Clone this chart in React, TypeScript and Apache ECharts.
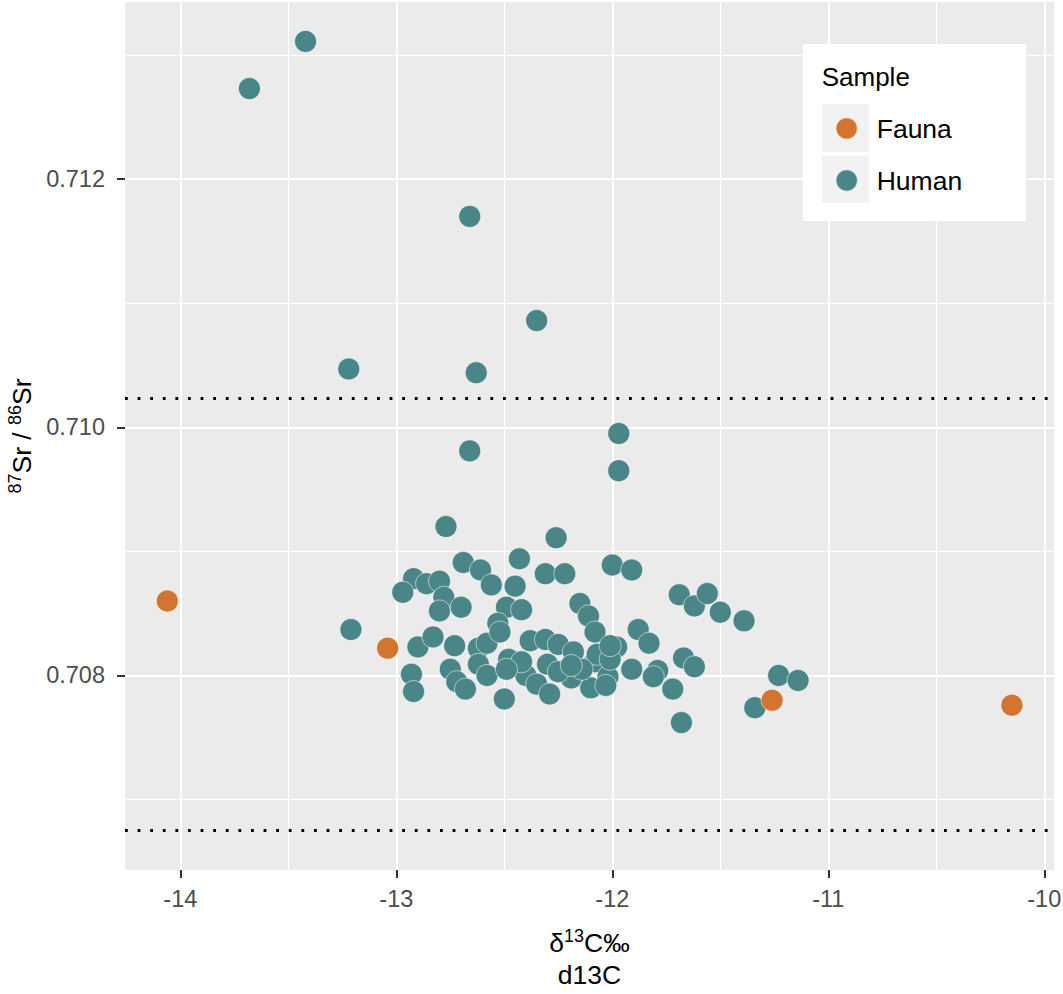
import React, { useEffect, useRef } from "react";
import * as echarts from "echarts";

// ---- data ----
const categories = ["Fauna", "Human"];

const humanD13C = [
  -13.42, -13.68, -12.66, -12.35, -13.22, -12.63, -12.66, -11.97, -11.97,
  -12.77, -12.69, -12.61, -12.56, -12.43, -12.45, -12.26, -12.31, -12.22,
  -12.0, -11.91, -12.92, -12.97, -12.86, -12.8, -12.78, -12.8, -12.7,
  -12.49, -12.42, -12.53, -12.15, -12.11, -12.08, -12.9, -12.83, -12.73,
  -12.93, -12.92, -12.75, -12.72, -12.68, -12.5, -13.21, -11.69, -11.62,
  -11.56, -11.5, -11.39, -11.88, -11.83, -11.98, -11.67, -11.62, -11.91,
  -11.79, -11.81, -11.72, -11.68, -11.23, -11.14, -11.34, -12.08, -12.1,
  -12.02, -12.07, -12.62, -12.58, -12.62, -12.58, -12.48, -12.38, -12.31,
  -12.25, -12.4, -12.35, -12.29, -12.18, -12.19, -12.3, -12.42, -12.25,
  -12.14, -12.01, -12.01, -12.52, -12.49, -12.03, -12.19,
];
const humanSr = [
  0.71311, 0.71273, 0.7117, 0.71086, 0.71047, 0.71044, 0.70981, 0.70995, 0.70965,
  0.7092, 0.70891, 0.70885, 0.70873, 0.70894, 0.70872, 0.70911, 0.70882, 0.70882,
  0.70889, 0.70885, 0.70878, 0.70867, 0.70874, 0.70876, 0.70863, 0.70852, 0.70855,
  0.70855, 0.70853, 0.70842, 0.70858, 0.70848, 0.70835, 0.70823, 0.70831, 0.70824,
  0.70801, 0.70787, 0.70805, 0.70795, 0.70789, 0.70781, 0.70837, 0.70865, 0.70856,
  0.70866, 0.70851, 0.70844, 0.70837, 0.70826, 0.70823, 0.70814, 0.70807, 0.70805,
  0.70804, 0.70799, 0.70789, 0.70762, 0.708, 0.70796, 0.70774, 0.70811, 0.7079,
  0.70799, 0.70817, 0.70822, 0.70826, 0.70809, 0.708, 0.70813, 0.70828, 0.70829,
  0.70825, 0.708, 0.70793, 0.70785, 0.70819, 0.70798, 0.70809, 0.70811, 0.70803,
  0.70805, 0.70813, 0.70824, 0.70835, 0.70805, 0.70792, 0.70808,
];

const faunaD13C = [-14.06, -13.04, -11.26, -10.15];
const faunaSr = [0.7086, 0.70822, 0.7078, 0.70776];

const xTicks = [-14, -13, -12, -11, -10];
const xMinor = [-13.5, -12.5, -11.5, -10.5];
const yTicks = [0.708, 0.71, 0.712];
const yMinor = [0.707, 0.709, 0.711, 0.713];
const refLines = [0.710234, 0.70675];
const xRange = [-14.256, -9.955];
const yRange = [0.706432, 0.713428];

const FONT = '"Liberation Sans", Arial, Helvetica, sans-serif';
const HUMAN = "#4A8587";
const FAUNA = "#D3752F";

export default function App() {
  const ref = useRef<HTMLDivElement>(null);

  useEffect(() => {
    document.body.style.margin = "0";
    document.body.style.overflow = "hidden";
    if (!ref.current) return;
    const chart = echarts.init(ref.current, undefined, { renderer: "svg" });

    const grid = (v: number, axis: "xAxis" | "yAxis", w: number) => ({
      [axis]: v,
      lineStyle: { color: "#FFFFFF", width: w, type: "solid" },
    });

    const markData = [
      ...yMinor.map((v) => grid(v, "yAxis", 1.1)),
      ...xMinor.map((v) => grid(v, "xAxis", 1.1)),
      ...yTicks.map((v) => grid(v, "yAxis", 2)),
      ...xTicks.map((v) => grid(v, "xAxis", 2)),
      ...refLines.map((v) => ({
        yAxis: v,
        lineStyle: { color: "#000000", width: 2.8, type: [2.8, 9.8] },
      })),
    ];

    const titleStyle = { fontSize: 26.5, color: "#000", fontFamily: FONT, lineHeight: 32 };
    const supStyle = { fontSize: 18, color: "#000", fontFamily: FONT, verticalAlign: "top", lineHeight: 18 };

    const option: any = {
      animation: false,
      grid: {
        left: 125,
        right: 9,
        top: 2,
        bottom: 124,
        show: true,
        backgroundColor: "#EBEBEB",
        borderWidth: 0,
        containLabel: false,
        outerBoundsMode: "none",
      },
      title: {
        text: "Sample",
        left: 821.7,
        top: 64,
        padding: 0,
        z: 10,
        textStyle: { fontSize: 26, fontWeight: "normal", color: "#000", fontFamily: FONT },
      },
      legend: {
        data: categories,
        orient: "vertical",
        left: 834.7,
        top: 115,
        padding: 0,
        itemWidth: 22,
        itemHeight: 22,
        itemGap: 25,
        icon: "circle",
        selectedMode: false,
        z: 10,
        textStyle: { fontSize: 26.5, color: "#000", fontFamily: FONT, padding: [0, 0, 0, 14] },
      },
      graphic: [
        { type: "rect", z: 8, shape: { x: 803, y: 44, width: 223, height: 177 }, style: { fill: "#FFFFFF" } },
        { type: "rect", z: 9, shape: { x: 822, y: 104, width: 47, height: 48 }, style: { fill: "#F2F2F2" } },
        { type: "rect", z: 9, shape: { x: 822, y: 155.5, width: 47, height: 47.5 }, style: { fill: "#F2F2F2" } },
      ],
      xAxis: {
        type: "value",
        min: xRange[0],
        max: xRange[1],
        axisLine: { show: false, onZero: false },
        splitLine: { show: false },
        axisTick: { show: true, customValues: xTicks, length: 8, lineStyle: { color: "#333333", width: 2 } },
        axisLabel: { customValues: xTicks, margin: 17, fontSize: 23.5, color: "#4D4D4D", fontFamily: FONT },
        name: "{t|δ}{s|13}{t|C‰}\n{t|d13C}",
        nameLocation: "middle",
        nameGap: 57,
        nameTextStyle: { rich: { t: titleStyle, s: supStyle } },
      },
      yAxis: {
        type: "value",
        min: yRange[0],
        max: yRange[1],
        axisLine: { show: false, onZero: false },
        splitLine: { show: false },
        axisTick: { show: true, customValues: yTicks, length: 8, lineStyle: { color: "#333333", width: 2 } },
        axisLabel: {
          customValues: yTicks,
          margin: 20,
          fontSize: 23.5,
          color: "#4D4D4D",
          fontFamily: FONT,
          formatter: (v: number) => v.toFixed(3),
        },
        name: "{s|87}{t|Sr / }{s|86}{t|Sr}",
        nameLocation: "middle",
        nameGap: 86,
        nameRotate: 90,
        nameTextStyle: { rich: { t: titleStyle, s: supStyle } },
      },
      series: [
        {
          type: "scatter",
          name: "_grid",
          data: [],
          silent: true,
          z: 1,
          markLine: {
            silent: true,
            z: 1,
            precision: 8,
            symbol: ["none", "none"],
            label: { show: false },
            emphasis: { disabled: true },
            animation: false,
            data: markData,
          },
        },
        {
          type: "scatter",
          name: "Human",
          z: 3,
          symbolSize: 22,
          data: humanD13C.map((x, i) => [x, humanSr[i]]),
          itemStyle: { color: HUMAN, opacity: 1, borderColor: "rgba(255,255,255,0.55)", borderWidth: 1 },
          emphasis: { disabled: true },
        },
        {
          type: "scatter",
          name: "Fauna",
          z: 3,
          symbolSize: 22,
          data: faunaD13C.map((x, i) => [x, faunaSr[i]]),
          itemStyle: { color: FAUNA, opacity: 1, borderColor: "rgba(255,255,255,0.55)", borderWidth: 1 },
          emphasis: { disabled: true },
        },
      ],
    };

    chart.setOption(option);
    return () => chart.dispose();
  }, []);

  return <div ref={ref} style={{ width: 1063, height: 994 }} />;
}
